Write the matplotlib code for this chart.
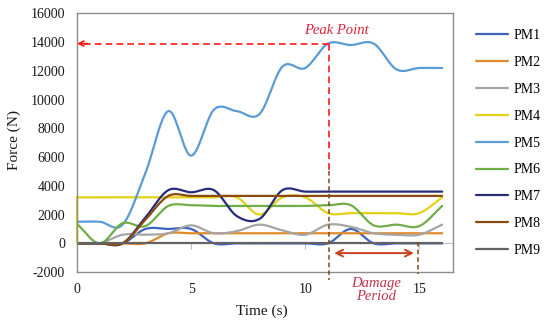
import numpy as np
import matplotlib
matplotlib.use('Agg')
import matplotlib.pyplot as plt
from matplotlib.markers import TICKDOWN

plt.rcParams['font.family'] = ['Liberation Serif', 'DejaVu Serif']

# ---------------- data ----------------
time = list(range(0, 17))
PM1 = [0, 0, 0, 1000, 1000, 1000, 0, 0, 0, 0, 0, 0, 1000, 0, 0, 0, 0]
PM2 = [0, 0, 0, 0, 700, 700, 700, 700, 700, 700, 700, 700, 700, 700, 700, 700, 700]
PM3 = [0, 0, 600, 600, 700, 1250, 700, 850, 1300, 900, 600, 1300, 1150, 700, 600, 600, 1300]
PM4 = [3200, 3200, 3200, 3200, 3200, 3200, 3200, 3200, 2000, 3200, 3200, 2100, 2100, 2100, 2100, 2100, 3200]
PM4_start_base = 0
PM5 = [1500, 1500, 1300, 4900, 9200, 6100, 9300, 9200, 9000, 12300, 12200, 13900, 13800, 13900, 12100, 12200, 12200]
PM6 = [1350, 0, 1400, 1200, 2600, 2650, 2600, 2600, 2600, 2600, 2600, 2650, 2650, 1250, 1300, 1200, 2600]
PM7 = [0, 0, 0, 1800, 3700, 3550, 3700, 1900, 1700, 3700, 3600, 3600, 3600, 3600, 3600, 3600, 3600]
PM8 = [0, 0, 0, 1650, 3300, 3300, 3300, 3300, 3300, 3300, 3300, 3300, 3300, 3300, 3300, 3300, 3300]
PM9 = [0] * 17

series_names = ['PM1', 'PM2', 'PM3', 'PM4', 'PM5', 'PM6', 'PM7', 'PM8', 'PM9']
series_values = [PM1, PM2, PM3, PM4, PM5, PM6, PM7, PM8, PM9]
series_colors = ['#3F63C0', '#E08A2A', '#A5A5A5', '#E3D116', '#5B9BD5',
                 '#70AD47', '#262C78', '#8A4A10', '#636363']

y_ticks = list(range(-2000, 16001, 2000))
x_ticks = [0, 5, 10, 15]

peak_time = 11.05
peak_force = 13900
damage_start = 11.05
damage_end = 14.95


def smooth(xs, ys, n=24):
    """Excel-like smoothed line (uniform Catmull-Rom through the points)."""
    P = np.column_stack([xs, ys]).astype(float)
    E = np.vstack([2 * P[0] - P[1], P, 2 * P[-1] - P[-2]])
    s = np.linspace(0, 1, n, endpoint=False)[:, None]
    h00 = 2 * s**3 - 3 * s**2 + 1
    h10 = s**3 - 2 * s**2 + s
    h01 = -2 * s**3 + 3 * s**2
    h11 = s**3 - s**2
    out = []
    for i in range(1, len(E) - 2):
        p0, p1, p2, p3 = E[i - 1], E[i], E[i + 1], E[i + 2]
        m1 = (p2 - p0) / 2
        m2 = (p3 - p1) / 2
        out.append(h00 * p1 + h10 * m1 + h01 * p2 + h11 * m2)
    out.append(P[-1][None, :])
    C = np.vstack(out)
    return C[:, 0], C[:, 1]


fig = plt.figure(figsize=(5.5, 3.27), dpi=100)
ax = fig.add_axes([0.14, 0.168, 0.683, 0.791])
ax.set_xlim(0, 16.46)
ax.set_ylim(-2000, 16000)

# horizontal axis line at 0 with tick marks
ax.axhline(0, color='#BFBFBF', lw=0.8, zorder=1)
ax.plot(x_ticks[1:], [0] * (len(x_ticks) - 1), ls='none', marker=TICKDOWN,
        ms=4, mew=0.8, color='#BFBFBF', zorder=1)

handles = []
for name, vals, col in zip(series_names, series_values, series_colors):
    xs, ys = smooth(time, vals)
    h, = ax.plot(xs, ys, color=col, lw=1.6, label=name, zorder=2,
                 solid_capstyle='round')
    if name == 'PM4':
        ax.plot([time[0], time[0]], [PM4_start_base, vals[0]], color=col,
                lw=1.6, zorder=2, clip_on=False)
    handles.append(h)

# ticks / spines
ax.set_yticks(y_ticks)
ax.set_yticklabels([str(v) for v in y_ticks])
ax.set_xticks(x_ticks)
ax.set_xticklabels([str(v) for v in x_ticks])
ax.tick_params(axis='both', length=0, labelsize=10, colors='#1a1a1a')
ax.tick_params(axis='y', pad=8.5)
ax.tick_params(axis='x', pad=8)
for sp in ax.spines.values():
    sp.set_color('#8C8C8C')
    sp.set_linewidth(1.0)

ax.set_xlabel('Time (s)', fontsize=11, color='#1a1a1a')
ax.xaxis.set_label_coords(0.492, -0.153)
ax.xaxis.label.set_va('center')
ax.set_ylabel('Force (N)', fontsize=11, color='#1a1a1a')
ax.yaxis.set_label_coords(-0.168, 0.51)
ax.yaxis.label.set_va('center')

# ---------------- annotations ----------------
red = '#FF1A1A'
brown = '#7A4A14'
ax.plot([peak_time, 0.25], [peak_force, peak_force], color=red, lw=1.2,
        dashes=(4, 2.5), zorder=3)
ax.annotate('', xy=(0, peak_force), xytext=(0.45, peak_force),
            arrowprops=dict(arrowstyle='->', color=red, lw=1.2,
                            mutation_scale=9, shrinkA=0, shrinkB=0),
            zorder=3)
ax.plot([peak_time, peak_time], [peak_force, 5000], color=red, lw=1.2,
        dashes=(4, 2.5), zorder=3)
ax.plot([damage_start, damage_start], [5000, -2550], color=brown, lw=1.1,
        dashes=(3, 2), zorder=3, clip_on=False)
ax.plot([damage_end, damage_end], [100, -2100], color=brown, lw=1.1,
        dashes=(3, 2), zorder=3, clip_on=False)
ax.annotate('', xy=(11.27, -680), xytext=(14.76, -680),
            arrowprops=dict(arrowstyle='<->', color='#C8401E', lw=1.4,
                            mutation_scale=12, shrinkA=0, shrinkB=0),
            zorder=3)
ax.text(11.35, 14840, 'Peak Point', fontsize=10.5, style='italic',
        color='#E0203A', ha='center', va='center')
ax.text(13.1, -3250, 'Damage\nPeriod', fontsize=10.5, style='italic',
        color='#C0304A', ha='center', va='center', linespacing=1.0,
        clip_on=False)

fig.legend(handles=handles, labels=series_names, loc='upper left',
           bbox_to_anchor=(476 / 550, 1 - 29 / 327), frameon=False,
           fontsize=10, handlelength=2.3, handletextpad=0.4,
           labelspacing=1.0, borderpad=0, borderaxespad=0)

fig.savefig('out.png', dpi=100)
